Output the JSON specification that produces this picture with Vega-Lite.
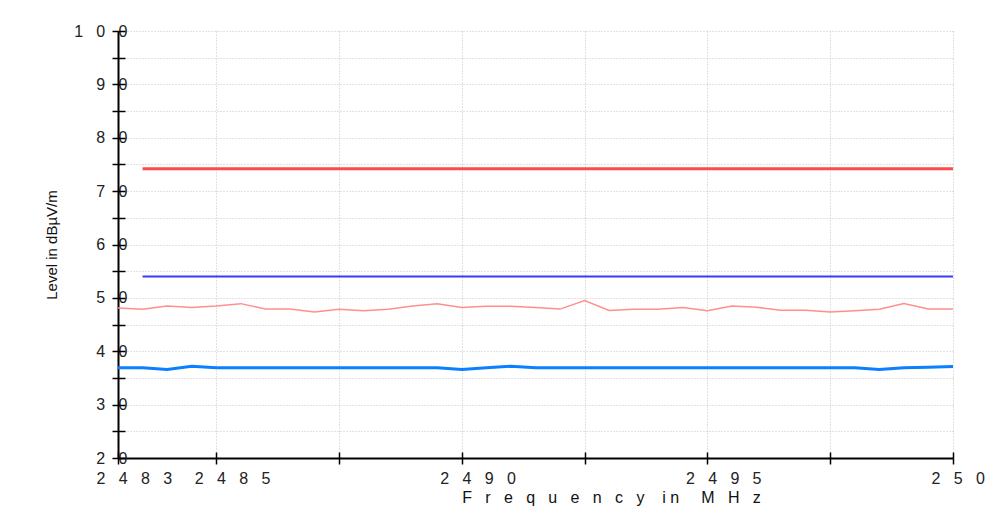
{
  "$schema": "https://vega.github.io/schema/vega-lite/v6.json",
  "width": 835,
  "height": 427,
  "autosize": {"type": "none"},
  "padding": {"left": 118, "top": 31, "right": 44, "bottom": 57},
  "background": "white",
  "config": {
    "view": {"stroke": null},
    "font": "Liberation Sans"
  },
  "datasets": {
    "meas": [
      {"freq": 2483.0, "level": 48.12, "series": "peak"},
      {"freq": 2483.5, "level": 47.88, "series": "peak"},
      {"freq": 2484.0, "level": 48.49, "series": "peak"},
      {"freq": 2484.5, "level": 48.18, "series": "peak"},
      {"freq": 2485.0, "level": 48.49, "series": "peak"},
      {"freq": 2485.5, "level": 48.92, "series": "peak"},
      {"freq": 2486.0, "level": 47.93, "series": "peak"},
      {"freq": 2486.5, "level": 47.93, "series": "peak"},
      {"freq": 2487.0, "level": 47.37, "series": "peak"},
      {"freq": 2487.5, "level": 47.88, "series": "peak"},
      {"freq": 2488.0, "level": 47.61, "series": "peak"},
      {"freq": 2488.5, "level": 47.88, "series": "peak"},
      {"freq": 2489.0, "level": 48.49, "series": "peak"},
      {"freq": 2489.5, "level": 48.92, "series": "peak"},
      {"freq": 2490.0, "level": 48.21, "series": "peak"},
      {"freq": 2490.5, "level": 48.44, "series": "peak"},
      {"freq": 2491.0, "level": 48.44, "series": "peak"},
      {"freq": 2491.5, "level": 48.18, "series": "peak"},
      {"freq": 2492.0, "level": 47.9, "series": "peak"},
      {"freq": 2492.5, "level": 49.49, "series": "peak"},
      {"freq": 2493.0, "level": 47.65, "series": "peak"},
      {"freq": 2493.5, "level": 47.88, "series": "peak"},
      {"freq": 2494.0, "level": 47.88, "series": "peak"},
      {"freq": 2494.5, "level": 48.18, "series": "peak"},
      {"freq": 2495.0, "level": 47.61, "series": "peak"},
      {"freq": 2495.5, "level": 48.49, "series": "peak"},
      {"freq": 2496.0, "level": 48.25, "series": "peak"},
      {"freq": 2496.5, "level": 47.69, "series": "peak"},
      {"freq": 2497.0, "level": 47.69, "series": "peak"},
      {"freq": 2497.5, "level": 47.37, "series": "peak"},
      {"freq": 2498.0, "level": 47.61, "series": "peak"},
      {"freq": 2498.5, "level": 47.88, "series": "peak"},
      {"freq": 2499.0, "level": 48.92, "series": "peak"},
      {"freq": 2499.5, "level": 47.93, "series": "peak"},
      {"freq": 2500.0, "level": 47.93, "series": "peak"},
      {"freq": 2483.0, "level": 36.9, "series": "average"},
      {"freq": 2483.5, "level": 36.9, "series": "average"},
      {"freq": 2484.0, "level": 36.6, "series": "average"},
      {"freq": 2484.5, "level": 37.2, "series": "average"},
      {"freq": 2485.0, "level": 36.9, "series": "average"},
      {"freq": 2485.5, "level": 36.9, "series": "average"},
      {"freq": 2486.0, "level": 36.9, "series": "average"},
      {"freq": 2486.5, "level": 36.9, "series": "average"},
      {"freq": 2487.0, "level": 36.9, "series": "average"},
      {"freq": 2487.5, "level": 36.9, "series": "average"},
      {"freq": 2488.0, "level": 36.9, "series": "average"},
      {"freq": 2488.5, "level": 36.9, "series": "average"},
      {"freq": 2489.0, "level": 36.9, "series": "average"},
      {"freq": 2489.5, "level": 36.9, "series": "average"},
      {"freq": 2490.0, "level": 36.6, "series": "average"},
      {"freq": 2490.5, "level": 36.9, "series": "average"},
      {"freq": 2491.0, "level": 37.2, "series": "average"},
      {"freq": 2491.5, "level": 36.9, "series": "average"},
      {"freq": 2492.0, "level": 36.9, "series": "average"},
      {"freq": 2492.5, "level": 36.9, "series": "average"},
      {"freq": 2493.0, "level": 36.9, "series": "average"},
      {"freq": 2493.5, "level": 36.9, "series": "average"},
      {"freq": 2494.0, "level": 36.9, "series": "average"},
      {"freq": 2494.5, "level": 36.9, "series": "average"},
      {"freq": 2495.0, "level": 36.9, "series": "average"},
      {"freq": 2495.5, "level": 36.9, "series": "average"},
      {"freq": 2496.0, "level": 36.9, "series": "average"},
      {"freq": 2496.5, "level": 36.9, "series": "average"},
      {"freq": 2497.0, "level": 36.9, "series": "average"},
      {"freq": 2497.5, "level": 36.9, "series": "average"},
      {"freq": 2498.0, "level": 36.9, "series": "average"},
      {"freq": 2498.5, "level": 36.6, "series": "average"},
      {"freq": 2499.0, "level": 36.9, "series": "average"},
      {"freq": 2499.5, "level": 37.0, "series": "average"},
      {"freq": 2500.0, "level": 37.15, "series": "average"},
      {"freq": 2483.5, "level": 74.2, "series": "limit_peak"},
      {"freq": 2500.0, "level": 74.2, "series": "limit_peak"},
      {"freq": 2483.5, "level": 54.0, "series": "limit_average"},
      {"freq": 2500.0, "level": 54.0, "series": "limit_average"}
    ]
  },
  "data": {"name": "meas"},
  "resolve": {"axis": {"x": "independent", "y": "independent"}},
  "layer": [
    {
      "transform": [{"filter": "datum.series == 'peak'"}],
      "mark": {"type": "line", "color": "#ff8f8f", "strokeWidth": 1.5},
      "encoding": {
        "x": {
          "field": "freq", "type": "quantitative",
          "scale": {"domain": [2483, 2500], "nice": false, "zero": false},
          "axis": {
            "orient": "bottom",
            "values": [2483, 2485, 2487.5, 2490, 2492.5, 2495, 2497.5, 2500],
            "format": "d",
            "labelExpr": "datum.value % 1 != 0 ? '' : join(split(datum.label, ''), '\u00a0\u00a0\u00a0')",
            "labelAlign": "left", "labelBaseline": "top", "labelOffset": -22,
            "labelPadding": 6, "labelFontSize": 16, "labelColor": "#222222",
            "labelFlush": false, "labelOverlap": false, "labelBound": false,
            "grid": true, "gridColor": "#c4c4c4", "gridDash": [1, 2], "gridWidth": 1,
            "tickSize": 6, "tickColor": "black", "tickWidth": 1.5,
            "domainColor": "black", "domainWidth": 2,
            "title": "F\u00a0\u00a0\u00a0r\u00a0\u00a0\u00a0e\u00a0\u00a0\u00a0q\u00a0\u00a0\u00a0u\u00a0\u00a0\u00a0e\u00a0\u00a0\u00a0n\u00a0\u00a0\u00a0c\u00a0\u00a0\u00a0y\u00a0\u00a0\u00a0\u00a0i\u00a0n\u00a0\u00a0\u00a0\u00a0\u00a0M\u00a0\u00a0\u00a0H\u00a0\u00a0\u00a0z",
            "titleFontSize": 16, "titleFontWeight": "normal", "titleColor": "#111111",
            "titleX": 493, "titleAlign": "center", "titlePadding": 3
          }
        },
        "y": {
          "field": "level", "type": "quantitative",
          "scale": {"domain": [20, 100], "nice": false, "zero": false},
          "axis": {
            "orient": "left",
            "values": [20, 25, 30, 35, 40, 45, 50, 55, 60, 65, 70, 75, 80, 85, 90, 95, 100],
            "labelExpr": "datum.value % 10 != 0 ? '' : join(split(datum.label, ''), '\u00a0\u00a0\u00a0')",
            "labelPadding": -15, "labelFontSize": 16, "labelColor": "#222222",
            "labelBaseline": "middle",
            "grid": true, "gridColor": "#c4c4c4", "gridDash": [1, 2], "gridWidth": 1,
            "tickSize": 6, "tickColor": "black", "tickWidth": 1.5,
            "domainColor": "black", "domainWidth": 2,
            "title": "Level in dBµV/m",
            "titleFontSize": 15, "titleFontWeight": "normal", "titleColor": "#111111",
            "titlePadding": 14
          }
        }
      }
    },
    {
      "transform": [{"filter": "datum.series == 'average'"}],
      "mark": {"type": "line", "color": "#0a7fff", "strokeWidth": 3},
      "encoding": {
        "x": {
          "field": "freq", "type": "quantitative",
          "axis": {
            "orient": "bottom",
            "values": [2483, 2485, 2487.5, 2490, 2492.5, 2495, 2497.5, 2500],
            "labels": false, "grid": false, "domain": false, "title": null,
            "tickSize": -6, "tickColor": "black", "tickWidth": 1.5
          }
        },
        "y": {
          "field": "level", "type": "quantitative",
          "axis": {
            "orient": "left",
            "values": [20, 25, 30, 35, 40, 45, 50, 55, 60, 65, 70, 75, 80, 85, 90, 95, 100],
            "labels": false, "grid": false, "domain": false, "title": null,
            "tickSize": -7, "tickColor": "black", "tickWidth": 1.5
          }
        }
      }
    },
    {
      "transform": [{"filter": "datum.series == 'limit_peak'"}],
      "mark": {"type": "line", "color": "#ff4a4a", "strokeWidth": 3},
      "encoding": {
        "x": {"field": "freq", "type": "quantitative", "axis": null},
        "y": {"field": "level", "type": "quantitative", "axis": null}
      }
    },
    {
      "transform": [{"filter": "datum.series == 'limit_average'"}],
      "mark": {"type": "line", "color": "#3a3aff", "strokeWidth": 2},
      "encoding": {
        "x": {"field": "freq", "type": "quantitative", "axis": null},
        "y": {"field": "level", "type": "quantitative", "axis": null}
      }
    }
  ]
}
